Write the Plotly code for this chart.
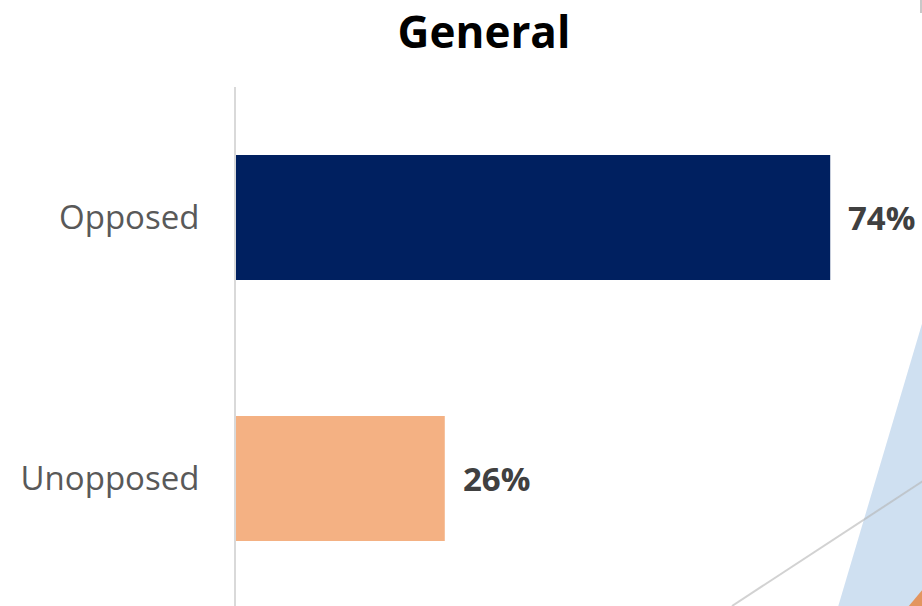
import plotly.graph_objects as go

# ---- data ----
categories = ["Unopposed", "Opposed"]
values = [26, 74]
value_labels = ["26%", "74%"]
bar_colors = ["#F4B183", "#002060"]
title_text = "General"

W, H = 922, 606
L, R, T, B = 236, 0, 87, 0
PX_PER_UNIT = 8.03
plot_w = W - L - R
plot_h = H - T - B

def px(x, y):
    return (x - L) / plot_w, (H - B - y) / plot_h

fig = go.Figure()
fig.add_trace(go.Bar(
    y=categories, x=values, orientation="h",
    marker=dict(color=bar_colors, line=dict(width=0)),
    width=0.479, hoverinfo="skip",
))

for c, v, t in zip(categories, values, value_labels):
    fig.add_annotation(x=v, y=c, xref="x", yref="y", text=t, showarrow=False,
                       xanchor="left", yanchor="middle", xshift=16,
                       font=dict(family="Open Sans", size=33, color="#404040", weight="bold"))

# decorative background shapes (slide decoration)
def path(points):
    pts = [px(x, y) for x, y in points]
    return "M " + " L ".join(f"{a:.5f},{b:.5f}" for a, b in pts) + " Z"

shapes = [
    dict(type="path", xref="paper", yref="paper",
         path=path([(922.5, 322), (838, 607), (923, 607)]),
         fillcolor="#CFE0F1", line=dict(width=0), layer="above"),
    dict(type="line", xref="paper", yref="paper",
         x0=px(732, 606)[0], y0=px(732, 606)[1], x1=px(923, 481)[0], y1=px(923, 481)[1],
         line=dict(color="rgba(180,180,180,0.6)", width=2), layer="above"),
    dict(type="path", xref="paper", yref="paper",
         path=path([(908, 607), (923, 589), (923, 607)]),
         fillcolor="#E3955F", line=dict(width=0), layer="above"),
    dict(type="line", xref="paper", yref="paper",
         x0=px(921, 0)[0], y0=px(921, 0)[1], x1=px(921, 13)[0], y1=px(921, 13)[1],
         line=dict(color="#C8C8C8", width=2), layer="above"),
]

fig.update_layout(
    width=W, height=H,
    margin=dict(l=L, r=R, t=T, b=B, pad=0),
    paper_bgcolor="white", plot_bgcolor="white",
    showlegend=False,
    shapes=shapes,
    title=dict(text=title_text, x=484 / W, xref="container", xanchor="center",
               y=1 - 33 / H, yref="container", yanchor="middle",
               font=dict(family="Open Sans", size=44, color="#000000", weight="bold")),
    xaxis=dict(range=[0, plot_w / PX_PER_UNIT], visible=False, showgrid=False, zeroline=False),
    yaxis=dict(categoryorder="array", categoryarray=categories,
               range=[-0.4885, 1.5],
               showline=True, linecolor="#D9D9D9", linewidth=2,
               showgrid=False, zeroline=False, ticks="",
               ticklabelstandoff=28,
               tickfont=dict(family="Open Sans", size=33, color="#595959")),
)

fig.write_html("out.html",
               config={"displayModeBar": False},
               post_script="document.body.style.margin='0';document.body.style.overflow='hidden';")
